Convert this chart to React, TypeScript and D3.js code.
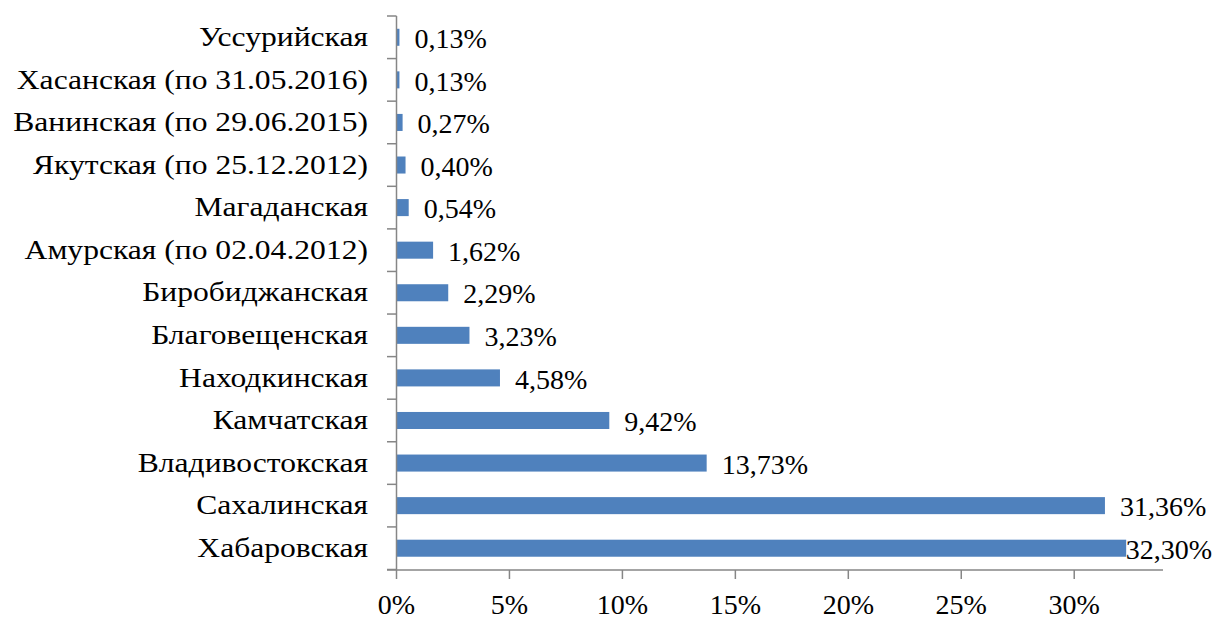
import React from "react";
import * as d3 from "d3";

const categories = [
  "Уссурийская",
  "Хасанская (по 31.05.2016)",
  "Ванинская (по 29.06.2015)",
  "Якутская (по 25.12.2012)",
  "Магаданская",
  "Амурская (по 02.04.2012)",
  "Биробиджанская",
  "Благовещенская",
  "Находкинская",
  "Камчатская",
  "Владивостокская",
  "Сахалинская",
  "Хабаровская",
];
const values = [0.13, 0.13, 0.27, 0.4, 0.54, 1.62, 2.29, 3.23, 4.58, 9.42, 13.73, 31.36, 32.3];
const xTicks = [0, 5, 10, 15, 20, 25, 30];

const W = 1214;
const H = 619;
const FONT = "Liberation Serif, Times New Roman, serif";
const CAT_FS = 27;
const CAT_SX = 1.17;
const VAL_FS = 28;
const TICK_FS = 28;

function measure(text: string, size: number): number {
  const c = document.createElement("canvas").getContext("2d");
  if (!c) return text.length * size * 0.5;
  c.font = `${size}px "Liberation Serif"`;
  return c.measureText(text).width;
}

const fmt = (v: number) => v.toFixed(2).replace(".", ",") + "%";

export default function App() {
  const x = d3.scaleLinear().domain([0, 33.93]).range([396.5, 1163]);
  const y = d3
    .scaleBand<string>()
    .domain(categories)
    .range([16, 569.5])
    .paddingInner(0.6)
    .paddingOuter(0.3);
  const axisColor = "#868686";
  const boundaries = d3.range(categories.length + 1).map((i) => 16 + i * ((569.5 - 16) / categories.length));

  return (
    <svg width={W} height={H} style={{ position: "absolute", left: 0, top: 0, background: "#fff" }}>
      <rect x={0} y={0} width={W} height={H} fill="#fff" />
      {categories.map((c, i) => {
        const v = values[i];
        const yy = y(c)!;
        const cy = yy + y.bandwidth() / 2;
        const label = fmt(v);
        const lw = measure(label, VAL_FS);
        let lx = x(v) + 15;
        if (lx + lw > W - 2) lx = W - 2 - lw;
        return (
          <g key={c}>
            <rect x={x(0)} y={yy} width={x(v) - x(0)} height={y.bandwidth()} fill="#4F81BD" />
            <text
              transform={`translate(368,${cy}) scale(${CAT_SX},1)`}
              dy="0.32em"
              textAnchor="end"
              fontFamily={FONT}
              fontSize={CAT_FS}
              fill="#000"
            >
              {c}
            </text>
            <text x={lx} y={cy} dy="0.38em" fontFamily={FONT} fontSize={VAL_FS} fill="#000">
              {label}
            </text>
          </g>
        );
      })}
      <line x1={396.5} x2={396.5} y1={16} y2={570} stroke={axisColor} strokeWidth={1.5} />
      {boundaries.map((b, i) => (
        <line key={i} x1={387} x2={396.5} y1={b} y2={b} stroke={axisColor} strokeWidth={1.5} />
      ))}
      <line x1={387} x2={1163} y1={570} y2={570} stroke={axisColor} strokeWidth={1.5} />
      {xTicks.map((t) => (
        <g key={t}>
          <line x1={x(t)} x2={x(t)} y1={570} y2={579} stroke={axisColor} strokeWidth={1.5} />
          <text x={x(t)} y={614} textAnchor="middle" fontFamily={FONT} fontSize={TICK_FS} fill="#000">
            {t + "%"}
          </text>
        </g>
      ))}
    </svg>
  );
}
